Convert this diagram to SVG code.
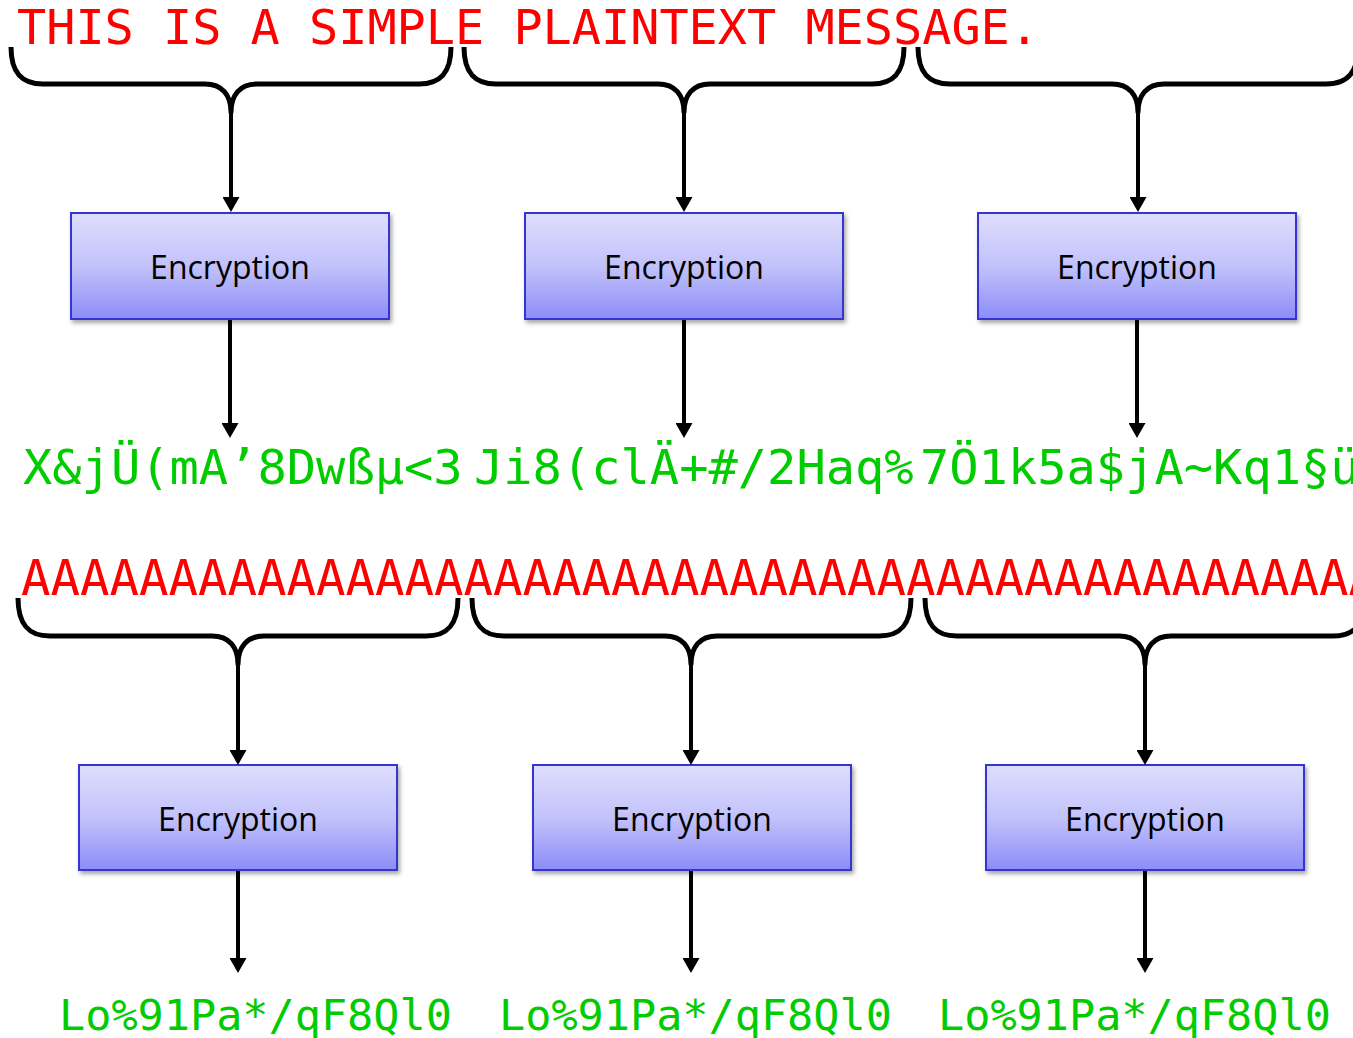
<svg xmlns="http://www.w3.org/2000/svg" width="1353" height="1038" viewBox="0 0 1353 1038">
  <defs>
    <linearGradient id="boxFill" x1="0" y1="0" x2="0" y2="1">
      <stop offset="0" stop-color="#dedefd"/>
      <stop offset="0.5" stop-color="#c2c2fb"/>
      <stop offset="1" stop-color="#8c8cf8"/>
    </linearGradient>
    <filter id="shadow" x="-10%" y="-10%" width="125%" height="135%">
      <feDropShadow dx="2" dy="3" stdDeviation="2.2" flood-color="#000" flood-opacity="0.35"/>
    </filter>
    <marker id="arrow" viewBox="0 -8.5 15 17" refX="0" refY="0" markerWidth="15" markerHeight="17" markerUnits="userSpaceOnUse" orient="auto">
      <path d="M0,-8.5 L15,0 L0,8.5 Z" fill="#000"/>
    </marker>
    <style>
      .plain { font-family: "DejaVu Sans Mono", "Liberation Mono", monospace; fill: #ff0000; }
      .cipher { font-family: "DejaVu Sans Mono", "Liberation Mono", monospace; fill: #00cc00; }
      .box { fill: url(#boxFill); stroke: #3535d0; stroke-width: 2; filter: url(#shadow); }
      .label { font-family: "Open Sans", "Noto Sans", "Liberation Sans", sans-serif; font-size: 32px; fill: #000; text-anchor: middle; }
      .brace { fill: none; stroke: #000; stroke-width: 5; stroke-linejoin: round; }
      .arrow { fill: none; stroke: #000; stroke-width: 4; marker-end: url(#arrow); }
    </style>
  </defs>

  <rect width="1353" height="1038" fill="#fff"/>

  <!-- First example: a normal message split into blocks -->
  <g id="plaintext-1">
    <text class="plain" x="17" y="44" font-size="48.5">THIS IS A SIMPLE PLAINTEXT MESSAGE.</text>
  </g>
  <g id="ciphertext-1">
    <text class="cipher" y="484" font-size="48.7"><tspan x="23">X&amp;jÜ(mA’8Dwßµ&lt;3</tspan><tspan x="474">Ji8(clÄ+#/2Haq%</tspan><tspan x="920">7Ö1k5a$jA~Kq1§ü</tspan></text>
  </g>

  <!-- Second example: repeated plaintext blocks -->
  <g id="plaintext-2">
    <text class="plain" x="21" y="595" font-size="49">AAAAAAAAAAAAAAAAAAAAAAAAAAAAAAAAAAAAAAAAAAAAAA</text>
  </g>
  <g id="ciphertext-2">
    <text class="cipher" y="1030" font-size="43.5"><tspan x="59">Lo%91Pa*/qF8Ql0</tspan><tspan x="499">Lo%91Pa*/qF8Ql0</tspan><tspan x="938">Lo%91Pa*/qF8Ql0</tspan></text>
  </g>

  <!-- Encryption blocks, row 1 -->
  <g id="enc-1-1">
    <rect class="box" x="71" y="213" width="318" height="106"/>
    <text class="label" x="230" y="279">Encryption</text>
  </g>
  <g id="enc-1-2">
    <rect class="box" x="525" y="213" width="318" height="106"/>
    <text class="label" x="684" y="279">Encryption</text>
  </g>
  <g id="enc-1-3">
    <rect class="box" x="978" y="213" width="318" height="106"/>
    <text class="label" x="1137" y="279">Encryption</text>
  </g>

  <!-- Encryption blocks, row 2 -->
  <g id="enc-2-1">
    <rect class="box" x="79" y="765" width="318" height="105"/>
    <text class="label" x="238" y="831">Encryption</text>
  </g>
  <g id="enc-2-2">
    <rect class="box" x="533" y="765" width="318" height="105"/>
    <text class="label" x="692" y="831">Encryption</text>
  </g>
  <g id="enc-2-3">
    <rect class="box" x="986" y="765" width="318" height="105"/>
    <text class="label" x="1145" y="831">Encryption</text>
  </g>

  <!-- Braces and arrows -->
  <g id="connectors">
    <!-- row 1 braces -->
    <path class="brace" d="M11,47 C11,72 21,84 43,84 H205 C222,84 231,95 231,112 C231,95 240,84 257,84 H419 C441,84 451,72 451,47"/>
    <path class="brace" d="M464,47 C464,72 474,84 496,84 H658 C675,84 684,95 684,112 C684,95 693,84 710,84 H872 C894,84 904,72 904,47"/>
    <path class="brace" d="M918,47 C918,72 928,84 950,84 H1112 C1129,84 1138,95 1138,112 C1138,95 1147,84 1164,84 H1326 C1348,84 1358,72 1358,47"/>
    <line class="arrow" x1="231" y1="110" x2="231" y2="197"/>
    <line class="arrow" x1="684" y1="110" x2="684" y2="197"/>
    <line class="arrow" x1="1138" y1="110" x2="1138" y2="197"/>
    <line class="arrow" x1="230" y1="320" x2="230" y2="423"/>
    <line class="arrow" x1="684" y1="320" x2="684" y2="423"/>
    <line class="arrow" x1="1137" y1="320" x2="1137" y2="423"/>

    <!-- row 2 braces -->
    <path class="brace" d="M18,598 C18,624 28,636 50,636 H212 C229,636 238,647 238,664 C238,647 247,636 264,636 H426 C448,636 458,624 458,598"/>
    <path class="brace" d="M472,598 C472,624 482,636 504,636 H665 C682,636 691,647 691,664 C691,647 700,636 717,636 H879 C901,636 911,624 911,598"/>
    <path class="brace" d="M925,598 C925,624 935,636 957,636 H1119 C1136,636 1145,647 1145,664 C1145,647 1154,636 1171,636 H1333 C1355,636 1365,624 1365,598"/>
    <line class="arrow" x1="238" y1="662" x2="238" y2="750"/>
    <line class="arrow" x1="691" y1="662" x2="691" y2="750"/>
    <line class="arrow" x1="1145" y1="662" x2="1145" y2="750"/>
    <line class="arrow" x1="238" y1="871" x2="238" y2="958"/>
    <line class="arrow" x1="691" y1="871" x2="691" y2="958"/>
    <line class="arrow" x1="1145" y1="871" x2="1145" y2="958"/>
  </g>
</svg>
